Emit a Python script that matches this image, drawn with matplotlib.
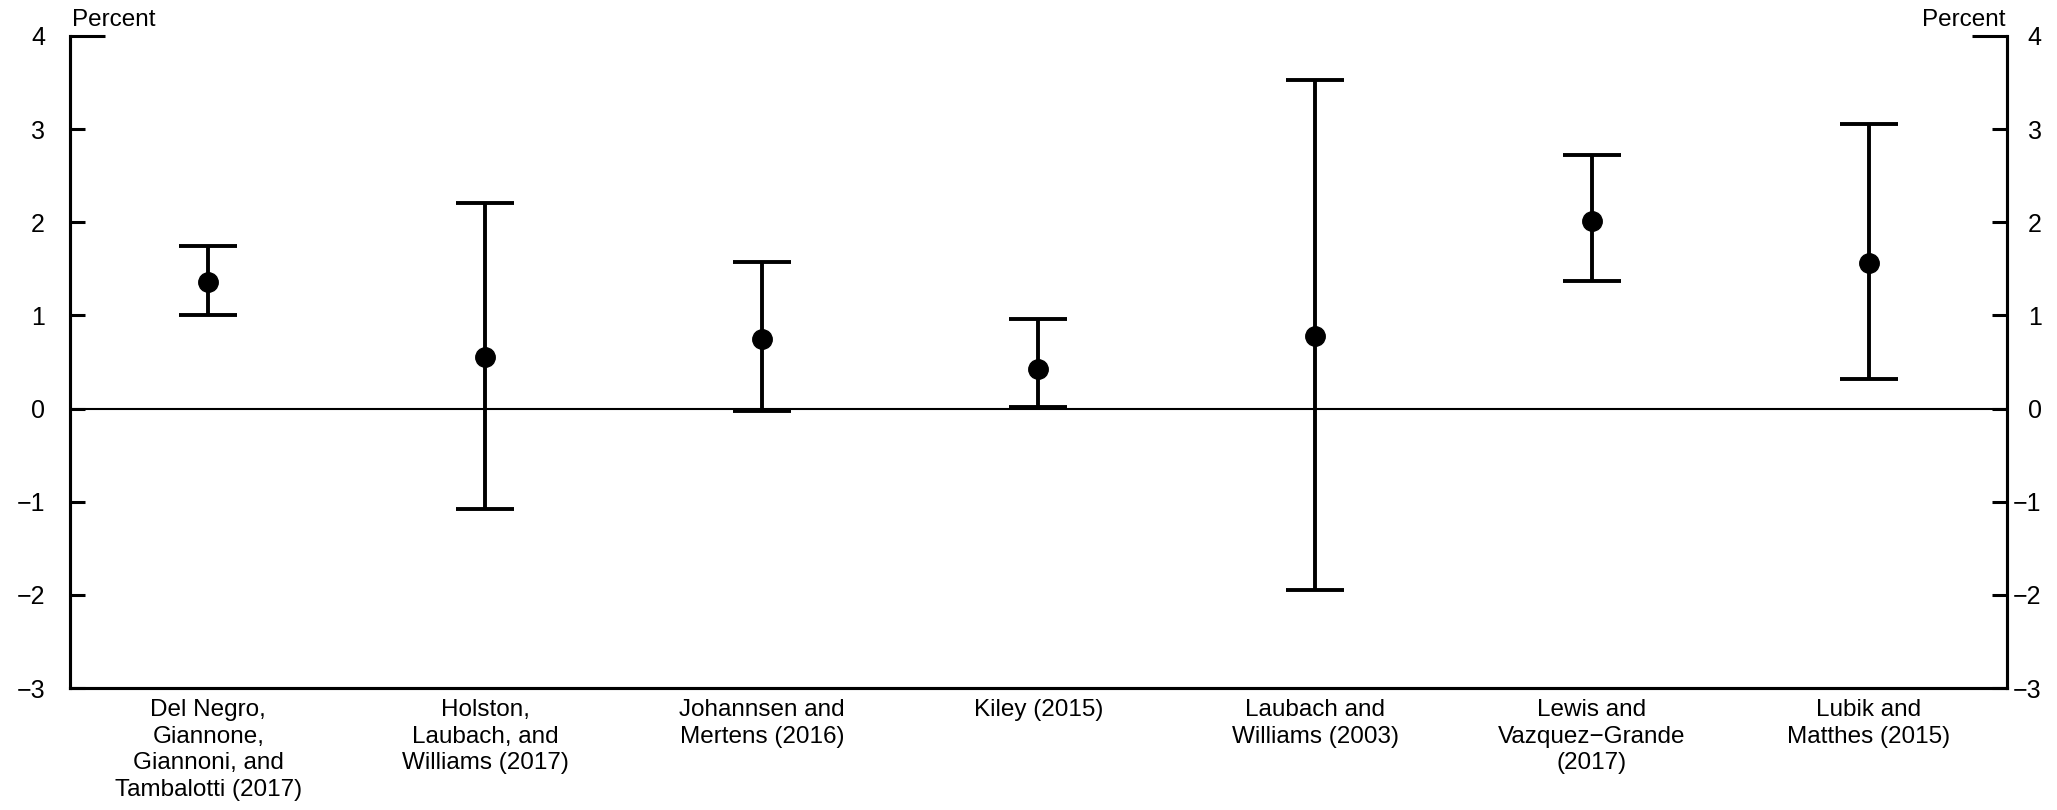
"""Range of r* estimates across models, point estimates with error bands."""

import matplotlib

matplotlib.use("Agg")
import matplotlib.pyplot as plt
from matplotlib.ticker import FixedLocator

studies = [
    "Del Negro,\nGiannone,\nGiannoni, and\nTambalotti (2017)",
    "Holston,\nLaubach, and\nWilliams (2017)",
    "Johannsen and\nMertens (2016)",
    "Kiley (2015)",
    "Laubach and\nWilliams (2003)",
    "Lewis and\nVazquez\u2212Grande\n(2017)",
    "Lubik and\nMatthes (2015)",
]
point = [1.36, 0.55, 0.75, 0.43, 0.78, 2.01, 1.56]
upper = [1.75, 2.21, 1.57, 0.96, 3.53, 2.72, 3.06]
lower = [1.00, -1.08, -0.03, 0.02, -1.95, 1.37, 0.32]
yticks = [-3, -2, -1, 0, 1, 2, 3, 4]


def style_yaxis(axis, side, pad):
    axis.yaxis.set_major_locator(FixedLocator(yticks[:-1]))
    axis.yaxis.set_minor_locator(FixedLocator(yticks[-1:]))
    axis.set_yticks(yticks[-1:], labels=[str(yticks[-1])], minor=True)
    axis.tick_params(axis="y", which="both", direction="in", width=2.2,
                     labelsize=18, pad=pad)
    axis.tick_params(axis="y", which="major", length=11)
    axis.tick_params(axis="y", which="minor", length=25)


def main():
    plt.rcParams["font.family"] = ["Liberation Sans", "DejaVu Sans"]
    fig = plt.figure(figsize=(20.57, 8.10), dpi=100)
    ax = fig.add_axes([0.034, 0.1506, 0.9417, 0.805])

    xs = list(range(len(studies)))
    err = [[p - lo for p, lo in zip(point, lower)],
           [up - p for p, up in zip(point, upper)]]
    ax.errorbar(xs, point, yerr=err, fmt="o", color="black", ms=14,
                elinewidth=2.8, capsize=21, capthick=2.8, zorder=3)
    ax.axhline(0, color="black", lw=1.5, zorder=2)

    ax.set_xlim(-0.5, len(studies) - 0.5)
    ax.set_ylim(-3, 4)
    ax.set_xticks(xs)
    ax.set_xticklabels(studies, fontsize=17.5, linespacing=1.27)
    ax.tick_params(axis="x", length=0, pad=8)
    style_yaxis(ax, "left", 18)

    # right-hand axis repeats the scale, labels are right-aligned like the original
    ax2 = ax.twinx()
    ax2.set_ylim(ax.get_ylim())
    style_yaxis(ax2, "right", 25)
    for lbl in ax2.get_yticklabels(which="both"):
        lbl.set_horizontalalignment("right")

    for a in (ax, ax2):
        a.spines["top"].set_visible(False)
        for side in ("left", "right", "bottom"):
            a.spines[side].set_linewidth(2.2)

    ax.text(0.001, 1.008, "Percent", transform=ax.transAxes, fontsize=17.5,
            ha="left", va="bottom")
    ax.text(0.999, 1.008, "Percent", transform=ax.transAxes, fontsize=17.5,
            ha="right", va="bottom")

    fig.savefig("out.png", dpi=100)


if __name__ == "__main__":
    main()
